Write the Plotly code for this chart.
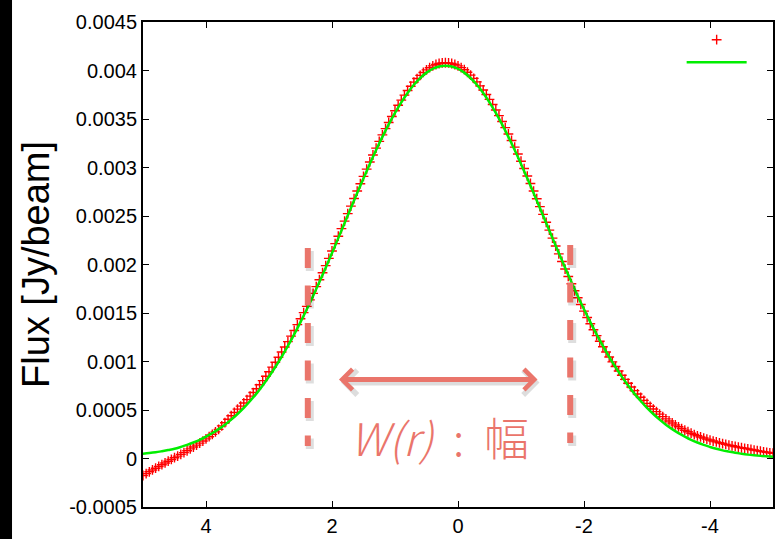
import plotly.graph_objects as go

# ---- data ----
# red measured profile, offsets from +5.00 down to -5.00 in steps of 0.05
red_start, red_step, red_n = 5.0, -0.05, 201
red_flux = [
    -0.000175, -0.000156, -0.000137, -0.000118, -0.000100, -0.000082, -0.000064, -0.000046, -0.000028, -0.000010,
    0.000008, 0.000025, 0.000043, 0.000061, 0.000080, 0.000099, 0.000118, 0.000138, 0.000159, 0.000180,
    0.000202, 0.000225, 0.000249, 0.000274, 0.000300, 0.000336, 0.000369, 0.000405, 0.000441, 0.000474,
    0.000509, 0.000540, 0.000572, 0.000607, 0.000643, 0.000680, 0.000719, 0.000760, 0.000803, 0.000848,
    0.000894, 0.000942, 0.000993, 0.001044, 0.001098, 0.001150, 0.001205, 0.001262, 0.001320, 0.001380,
    0.001441, 0.001504, 0.001568, 0.001635, 0.001702, 0.001772, 0.001843, 0.001915, 0.001988, 0.002063,
    0.002139, 0.002215, 0.002292, 0.002370, 0.002447, 0.002525, 0.002602, 0.002680, 0.002757, 0.002833,
    0.002908, 0.002983, 0.003057, 0.003129, 0.003200, 0.003269, 0.003336, 0.003401, 0.003464, 0.003525,
    0.003585, 0.003641, 0.003695, 0.003746, 0.003794, 0.003838, 0.003880, 0.003917, 0.003950, 0.003980,
    0.004006, 0.004029, 0.004048, 0.004062, 0.004072, 0.004078, 0.004080, 0.004078, 0.004072, 0.004062,
    0.004048, 0.004030, 0.004008, 0.003982, 0.003952, 0.003919, 0.003883, 0.003842, 0.003799, 0.003752,
    0.003702, 0.003649, 0.003593, 0.003535, 0.003474, 0.003411, 0.003346, 0.003279, 0.003210, 0.003139,
    0.003065, 0.002989, 0.002912, 0.002835, 0.002757, 0.002678, 0.002597, 0.002517, 0.002435, 0.002354,
    0.002272, 0.002190, 0.002110, 0.002031, 0.001953, 0.001877, 0.001802, 0.001729, 0.001657, 0.001588,
    0.001519, 0.001453, 0.001389, 0.001327, 0.001267, 0.001208, 0.001152, 0.001098, 0.001046, 0.000996,
    0.000948, 0.000902, 0.000858, 0.000816, 0.000776, 0.000737, 0.000700, 0.000665, 0.000631, 0.000599,
    0.000568, 0.000538, 0.000510, 0.000483, 0.000457, 0.000432, 0.000409, 0.000387, 0.000366, 0.000346,
    0.000327, 0.000309, 0.000292, 0.000276, 0.000261, 0.000247, 0.000234, 0.000222, 0.000211, 0.000200,
    0.000190, 0.000180, 0.000171, 0.000162, 0.000154, 0.000146, 0.000138, 0.000131, 0.000124, 0.000117,
    0.000111, 0.000105, 0.000099, 0.000093, 0.000087, 0.000081, 0.000075, 0.000069, 0.000064, 0.000059,
    0.000054,
]

# green fitted profile, offsets from +5.0 down to -5.0 in steps of 0.1
fit_start, fit_step, fit_n = 5.0, -0.1, 101
fit_flux = [
    0.000050, 0.000056, 0.000064, 0.000075, 0.000087, 0.000100, 0.000119, 0.000140, 0.000165, 0.000193,
    0.000226, 0.000262, 0.000303, 0.000349, 0.000401, 0.000459, 0.000522, 0.000593, 0.000669, 0.000753,
    0.000844, 0.000943, 0.001048, 0.001160, 0.001280, 0.001406, 0.001538, 0.001676, 0.001820, 0.001967,
    0.002119, 0.002272, 0.002427, 0.002582, 0.002737, 0.002888, 0.003037, 0.003180, 0.003316, 0.003444,
    0.003563, 0.003672, 0.003769, 0.003853, 0.003922, 0.003978, 0.004018, 0.004042, 0.004050, 0.004042,
    0.004018, 0.003978, 0.003922, 0.003853, 0.003769, 0.003672, 0.003563, 0.003444, 0.003316, 0.003180,
    0.003037, 0.002888, 0.002737, 0.002582, 0.002427, 0.002272, 0.002119, 0.001967, 0.001820, 0.001676,
    0.001538, 0.001406, 0.001280, 0.001160, 0.001048, 0.000943, 0.000844, 0.000753, 0.000669, 0.000593,
    0.000522, 0.000459, 0.000401, 0.000349, 0.000303, 0.000262, 0.000226, 0.000193, 0.000165, 0.000140,
    0.000119, 0.000100, 0.000084, 0.000071, 0.000059, 0.000049, 0.000040, 0.000033, 0.000027, 0.000022,
    0.000018,
]

x_tickvals = [4, 2, 0, -2, -4]
x_ticktext = ["4", "2", "0", "-2", "-4"]
y_tickvals = [-0.0005, 0, 0.0005, 0.001, 0.0015, 0.002, 0.0025, 0.003, 0.0035, 0.004, 0.0045]
y_ticktext = ["-0.0005", "0", "0.0005", "0.001", "0.0015", "0.002", "0.0025", "0.003", "0.0035", "0.004", "0.0045"]
y_title = "Flux [Jy/beam]"
width_label = "<i>W(r)</i>  :  幅"

red_x = [round(red_start + red_step * i, 2) for i in range(red_n)]
fit_x = [round(fit_start + fit_step * i, 2) for i in range(fit_n)]

SALMON = "#EA756B"
SHADOW = "rgba(0,0,0,0.13)"
TICKFONT = dict(family="Liberation Sans, Arial, sans-serif", size=20, color="black")

fig = go.Figure()
fig.add_trace(go.Scatter(
    x=red_x, y=red_flux, mode="markers", name=" ",
    marker=dict(symbol="cross-thin", size=7, color="red", line=dict(color="red", width=1.4)),
))
fig.add_trace(go.Scatter(
    x=fit_x, y=fit_flux, mode="lines", name=" ", line_shape="spline",
    line=dict(color="#00EE00", width=2.5),
))

axis_common = dict(
    showline=True, linecolor="black", linewidth=2, mirror="ticks",
    ticks="inside", ticklen=6, tickwidth=1, tickcolor="black",
    showgrid=False, zeroline=False, tickfont=TICKFONT, automargin=False,
)
fig.update_xaxes(range=[5, -5], tickmode="array", tickvals=x_tickvals, ticktext=x_ticktext, **axis_common)
fig.update_yaxes(range=[-0.0005, 0.0045], tickmode="array", tickvals=y_tickvals, ticktext=y_ticktext,
                 title=dict(text=y_title,
                            font=dict(family="Liberation Sans, Arial, sans-serif", size=38, color="black", weight=300),
                            standoff=8),
                 **axis_common)

# pixel -> data helpers for small shadow offsets
px_x = 10.0 / 630.0   # data units per px on x
px_y = 0.005 / 485.0  # data units per px on y

shapes = []
# black strip at far left
shapes.append(dict(type="rect", xref="paper", yref="paper", x0=-0.2270, x1=-0.2079, y0=-0.2, y1=1.2,
                   fillcolor="black", line=dict(width=0), layer="above"))
# dashed width markers (with a soft shadow)
markers = [(2.384, 0.00217, 0.000129), (-1.781, 0.00220, 0.000160)]
for xv, ytop, ybot in markers:
    shapes.append(dict(type="line", xref="x", yref="y", x0=xv - 2 * px_x, x1=xv - 2 * px_x,
                       y0=ytop - 3 * px_y, y1=ybot - 3 * px_y,
                       line=dict(color=SHADOW, width=8, dash="20px,17.5px"), layer="above"))
for xv, ytop, ybot in markers:
    shapes.append(dict(type="line", xref="x", yref="y", x0=xv, x1=xv, y0=ytop, y1=ybot,
                       line=dict(color=SALMON, width=6, dash="20px,17.5px"), layer="above"))
fig.update_layout(shapes=shapes)

arrow_y = 0.000814
arrow_left, arrow_right = 1.913, -1.262
fig.add_annotation(x=arrow_right - 2 * px_x, y=arrow_y - 3 * px_y, ax=arrow_left - 2 * px_x, ay=arrow_y - 3 * px_y,
                   xref="x", yref="y", axref="x", ayref="y",
                   text="", showarrow=True, arrowside="end+start", arrowhead=4, startarrowhead=4,
                   arrowsize=0.8, startarrowsize=0.8, arrowwidth=6, arrowcolor=SHADOW)
fig.add_annotation(x=arrow_right, y=arrow_y, ax=arrow_left, ay=arrow_y, xref="x", yref="y", axref="x", ayref="y",
                   text="", showarrow=True, arrowside="end+start", arrowhead=4, startarrowhead=4,
                   arrowsize=0.8, startarrowsize=0.8, arrowwidth=5, arrowcolor=SALMON)
fig.add_annotation(x=0.29, y=0.000232, xref="x", yref="y", text=width_label, showarrow=False,
                   font=dict(family="Noto Sans CJK JP, sans-serif", size=45, color=SALMON, weight=300))

fig.update_layout(
    width=782, height=539,
    margin=dict(l=143, r=9, t=22, b=32),
    paper_bgcolor="white", plot_bgcolor="white",
    showlegend=True,
    legend=dict(x=0.855, y=0.997, xanchor="left", yanchor="top", bgcolor="rgba(0,0,0,0)",
                font=dict(size=15), itemwidth=60, tracegroupgap=0),
)

fig.write_html("out.html")
